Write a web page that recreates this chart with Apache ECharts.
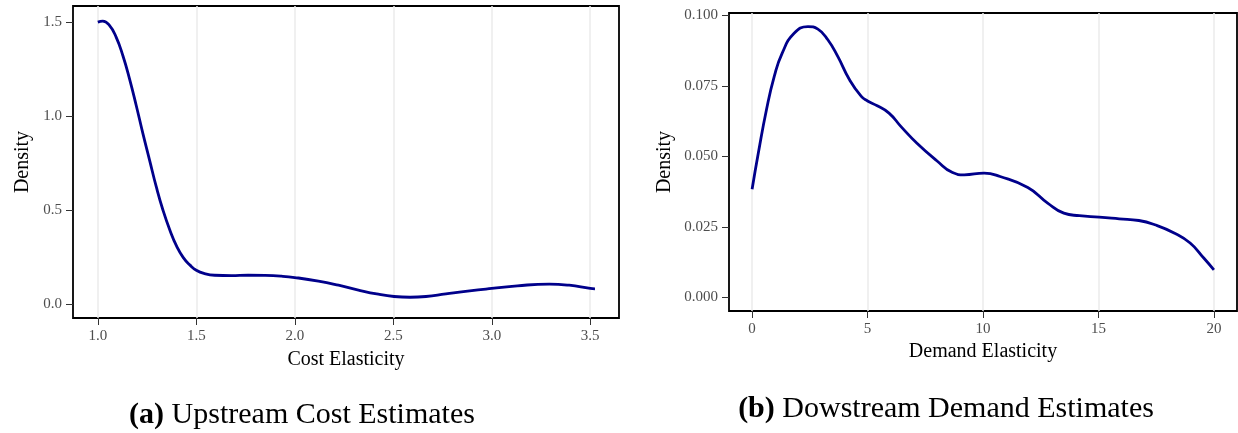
<!DOCTYPE html>
<html>
<head>
<meta charset="utf-8">
<script src="https://cdn.jsdelivr.net/npm/echarts@6/dist/echarts.min.js"></script>
<style>html,body{margin:0;padding:0;background:#fff;}#chart{width:1238px;height:433px;}</style>
</head>
<body>
<div id="chart"></div>
<script>
// ---- data ----
const costX = [1.0, 1.025, 1.059, 1.093, 1.127, 1.161, 1.195, 1.229, 1.263, 1.297, 1.331, 1.366, 1.4, 1.434, 1.468, 1.5, 1.542, 1.593, 1.678, 1.763, 1.85, 1.932, 2.0, 2.12, 2.222, 2.323, 2.424, 2.504, 2.585, 2.666, 2.767, 2.888, 3.0, 3.13, 3.292, 3.393, 3.5, 3.524];
const costDensity = [1.50, 1.505, 1.482, 1.42, 1.322, 1.198, 1.056, 0.906, 0.764, 0.622, 0.498, 0.392, 0.307, 0.246, 0.206, 0.179, 0.161, 0.152, 0.150, 0.152, 0.151, 0.147, 0.140, 0.121, 0.099, 0.073, 0.051, 0.039, 0.035, 0.039, 0.053, 0.069, 0.082, 0.096, 0.105, 0.099, 0.082, 0.080];
const demandX = [0, 0.27, 0.62, 0.96, 1.30, 1.82, 2.42, 2.85, 3.28, 3.71, 4.22, 4.73, 5.0, 5.42, 5.93, 6.45, 7.14, 8.0, 8.68, 9.19, 10.05, 10.74, 11.94, 12.8, 13.5, 14.17, 15.03, 15.9, 16.75, 17.44, 18.3, 18.97, 19.57, 20.0];
const demandDensity = [0.0384, 0.0512, 0.0665, 0.0784, 0.0866, 0.0937, 0.0961, 0.0952, 0.0914, 0.0855, 0.0772, 0.0713, 0.0697, 0.068, 0.0654, 0.0606, 0.0547, 0.0485, 0.0443, 0.0435, 0.0441, 0.0429, 0.039, 0.0335, 0.0299, 0.029, 0.0285, 0.0279, 0.0273, 0.0258, 0.0228, 0.0193, 0.0139, 0.0098];
const costXTicks = [1.0, 1.5, 2.0, 2.5, 3.0, 3.5];
const costYTicks = [0.0, 0.5, 1.0, 1.5];
const demandXTicks = [0, 5, 10, 15, 20];
const demandYTicks = [0.000, 0.025, 0.050, 0.075, 0.100];
const captionA = ['(a)', 'Upstream Cost Estimates'];
const captionB = ['(b)', 'Dowstream Demand Estimates'];

const serif = '"Liberation Serif", "DejaVu Serif", serif';
const tickColor = '#4d4d4d';

function axisDef(gridIndex, min, max, ticks, fmt, name, nameGap, isX) {
  return {
    type: 'value', gridIndex, min, max, name, nameLocation: 'middle', nameGap,
    nameTextStyle: {fontFamily: serif, fontSize: 20, color: '#000'},
    axisLine: {show: false, onZero: false},
    axisTick: {show: true, inside: false, length: 7, customValues: ticks, lineStyle: {color: '#333', width: 1}},
    axisLabel: {show: true, margin: 11, customValues: ticks, formatter: fmt, fontFamily: serif, fontSize: 15, color: tickColor},
    splitLine: {show: isX, lineStyle: {color: '#ebebeb', width: 1.5}}
  };
}

const capStyle = {fontFamily: serif, fontSize: 30, fontWeight: 'normal', color: '#000',
  rich: {b: {fontFamily: serif, fontSize: 30, fontWeight: 'bold', color: '#000'}}};

const chart = echarts.init(document.getElementById('chart'), null, {renderer: 'canvas'});
chart.setOption({
  animation: false,
  backgroundColor: '#fff',
  title: [
    {text: '{b|' + captionA[0] + '} ' + captionA[1], left: 297, top: 395, textAlign: 'center', textStyle: capStyle},
    {text: '{b|' + captionB[0] + '} ' + captionB[1], left: 941, top: 389, textAlign: 'center', textStyle: capStyle}
  ],
  grid: [
    {left: 73, top: 6, width: 546, height: 312, show: true, borderColor: '#000', borderWidth: 1.8, backgroundColor: 'transparent', containLabel: false},
    {left: 729, top: 13, width: 508, height: 298, show: true, borderColor: '#000', borderWidth: 1.8, backgroundColor: 'transparent', containLabel: false}
  ],
  xAxis: [
    axisDef(0, 0.874, 3.646, costXTicks, v => v.toFixed(1), 'Cost Elasticity', 32, true),
    axisDef(1, -1, 21, demandXTicks, v => String(v), 'Demand Elasticity', 30, true)
  ],
  yAxis: [
    axisDef(0, -0.0755, 1.5855, costYTicks, v => v.toFixed(1), 'Density', 40, false),
    axisDef(1, -0.0048, 0.1009, demandYTicks, v => v.toFixed(3), 'Density', 54, false)
  ],
  series: [
    {type: 'line', xAxisIndex: 0, yAxisIndex: 0, data: costX.map((x, i) => [x, costDensity[i]]),
     showSymbol: false, smooth: 0.5, lineStyle: {color: '#00008B', width: 2.8}, z: 3},
    {type: 'line', xAxisIndex: 1, yAxisIndex: 1, data: demandX.map((x, i) => [x, demandDensity[i]]),
     showSymbol: false, smooth: 0.5, lineStyle: {color: '#00008B', width: 2.8}, z: 3}
  ]
});
</script>
</body>
</html>
